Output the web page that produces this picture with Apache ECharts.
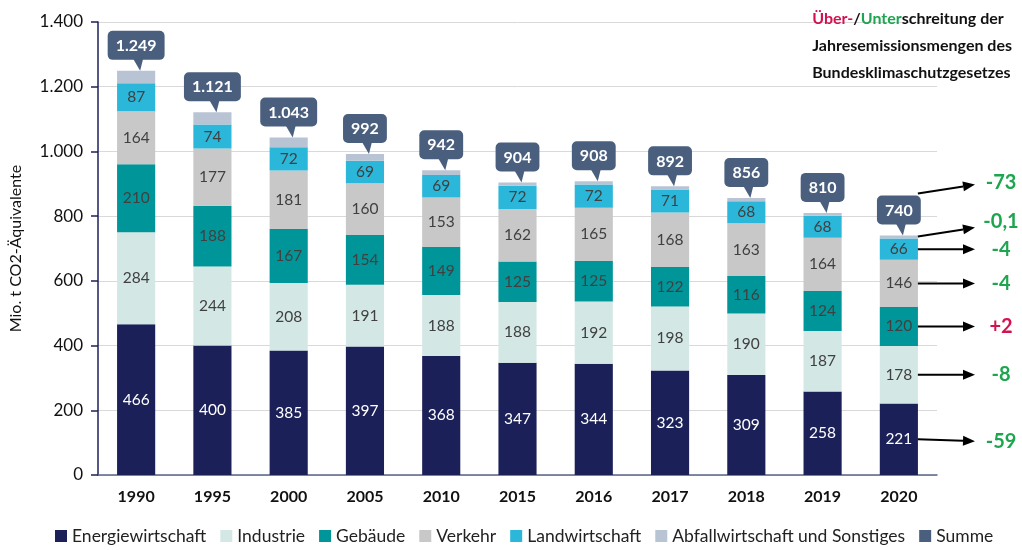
<!DOCTYPE html>
<html><head><meta charset="utf-8">
<script src="https://cdn.jsdelivr.net/npm/echarts@6/dist/echarts.min.js"></script>
<style>html,body{margin:0;padding:0;background:#fff}#c{width:1022px;height:550px}</style>
</head><body><div id="c"></div>
<script>
const years = ['1990','1995','2000','2005','2010','2015','2016','2017','2018','2019','2020'];
const energie = [466,400,385,397,368,347,344,323,309,258,221];
const industrie = [284,244,208,191,188,188,192,198,190,187,178];
const gebaeude = [210,188,167,154,149,125,125,122,116,124,120];
const verkehr = [164,177,181,160,153,162,165,168,163,164,146];
const landwirtschaft = [87,74,72,69,69,72,72,71,68,68,66];
const abfall = [38,38,30,21,15,10,10,10,10,9,9];
const summe = [1249,1121,1043,992,942,904,908,892,856,810,740];
const yTicks = [0,200,400,600,800,1000,1200,1400];
// 2020 deviations: Summe, Abfall, Landwirtschaft, Verkehr, Gebäude, Industrie, Energie
const devLabels = ['-73','-0,1','-4','-4','+2','-8','-59'];
const devColors = ['#1ea54f','#1ea54f','#1ea54f','#1ea54f','#d6114f','#1ea54f','#1ea54f'];

const FONT = 'Lato, "Noto Sans", sans-serif';
const fmt = v => String(v).replace(/\B(?=(\d{3})+(?!\d))/g, '.');

const chart = echarts.init(document.getElementById('c'));
function barSeries(name, data, color, labelColor, showLabel) {
  return {
    name, type: 'bar', stack: 'a', data, barWidth: '50%',
    itemStyle: { color },
    label: { show: showLabel, position: 'inside', color: labelColor, fontSize: 15.5, fontFamily: FONT },
    emphasis: { disabled: true }
  };
}
chart.setOption({
  animation: false,
  textStyle: { fontFamily: FONT },
  grid: { left: 98, right: 85, top: 22, bottom: 75 },
  legend: {
    bottom: 0, left: 50, icon: 'rect', itemWidth: 12, itemHeight: 12, itemGap: 14,
    textStyle: { fontSize: 17.5, color: '#222', fontFamily: FONT },
    data: ['Energiewirtschaft','Industrie','Gebäude','Verkehr','Landwirtschaft','Abfallwirtschaft und Sonstiges','Summe']
  },
  xAxis: {
    type: 'category', data: years,
    axisLine: { lineStyle: { color: '#5b6687', width: 1.5 } }, axisTick: { show: false },
    axisLabel: { fontSize: 16, fontWeight: 'bold', color: '#111', margin: 14 }
  },
  yAxis: {
    type: 'value', min: 0, max: 1400, interval: 200,
    name: 'Mio. t CO2-Äquivalente', nameLocation: 'middle', nameGap: 74, nameRotate: 90,
    nameTextStyle: { fontSize: 16, color: '#111', fontFamily: FONT },
    axisLine: { show: true, lineStyle: { color: '#1b2158', width: 1.5 } },
    axisTick: { show: true, inside: false, length: 7, lineStyle: { color: '#1b2158', width: 1.5 } },
    axisLabel: { fontSize: 17, color: '#111', margin: 15, formatter: v => yTicks.includes(v) ? fmt(v) : '' },
    splitLine: { lineStyle: { color: '#d9d9d9' } }
  },
  series: [
    barSeries('Energiewirtschaft', energie, '#1b2158', '#fff', true),
    barSeries('Industrie', industrie, '#d3e8e5', '#404040', true),
    barSeries('Gebäude', gebaeude, '#009598', '#404040', true),
    barSeries('Verkehr', verkehr, '#c8c8c8', '#404040', true),
    barSeries('Landwirtschaft', landwirtschaft, '#2bb7da', '#404040', true),
    barSeries('Abfallwirtschaft und Sonstiges', abfall, '#b8c4d4', '#404040', false),
    {
      name: 'Summe', type: 'scatter', data: summe, z: 5,
      symbol: 'path://M0,0 L10,0 L7,11 Z', symbolKeepAspect: false, symbolSize: [10, 12], symbolOffset: [2, -6],
      itemStyle: { color: '#4a5f7e', opacity: 1 },
      label: {
        show: true, position: 'top', distance: -1, offset: [-2, 0],
        formatter: p => fmt(p.value), color: '#fff', fontWeight: 'bold', fontSize: 16,
        backgroundColor: '#4a5f7e', borderRadius: 5, padding: [7, 8, 6, 8]
      },
      emphasis: { disabled: true }
    }
  ]
});

// Right-side annotations for 2020
const last = years.length - 1;
const cx = chart.convertToPixel({ seriesIndex: 0 }, [years[last], 0])[0];
const barHalf = 19;
const x0 = cx + barHalf;
const x1 = 975;
const tx = 1001;
const stacks = [energie, industrie, gebaeude, verkehr, landwirtschaft].map(a => a[last]);
let cum = 0; const mids = [];
stacks.forEach(v => { mids.push(cum + v / 2); cum += v; });
const topVal = cum + abfall[last];
const py = v => chart.convertToPixel({ seriesIndex: 0 }, [years[last], v])[1];
const arrows = [
  { y0: py(summe[last]) - 42, y1: py(summe[last]) - 51 },
  { y0: py(topVal) + 1, y1: py(topVal) - 8 },
  { y0: py(mids[4]), y1: py(mids[4]) },
  { y0: py(mids[3]), y1: py(mids[3]) },
  { y0: py(mids[2]), y1: py(mids[2]) },
  { y0: py(mids[1]), y1: py(mids[1]) },
  { y0: py(mids[0]), y1: py(mids[0]) + 2 }
];
const textY = [py(summe[last]) - 53, py(topVal) - 14, null, null, null, null, null];
const g = [];
arrows.forEach((a, i) => {
  const dx = x1 - x0, dy = a.y1 - a.y0, len = Math.hypot(dx, dy);
  const ux = dx / len, uy = dy / len;
  const hl = 12, hw = 5;
  const bx = x1 - ux * hl, by = a.y1 - uy * hl;
  g.push({ type: 'line', shape: { x1: x0, y1: a.y0, x2: bx, y2: by }, style: { stroke: '#000', lineWidth: 2 }, z: 10 });
  g.push({ type: 'polygon', shape: { points: [[x1, a.y1], [bx - uy * hw, by + ux * hw], [bx + uy * hw, by - ux * hw]] }, style: { fill: '#000' }, z: 10 });
  g.push({ type: 'text', x: tx, y: textY[i] != null ? textY[i] : a.y1, z: 10,
    style: { text: devLabels[i], fill: devColors[i], fontSize: 20, fontWeight: 'bold', fontFamily: FONT, align: 'center', verticalAlign: 'middle' } });
});
// Title block
const T = { fontSize: 16, fontWeight: 'bold', fontFamily: FONT, lineHeight: 27 };
g.push({
  type: 'text', right: 10, top: 5, z: 10,
  style: {
    text: '{r|Über-}{k|/}{gr|Unter}{k|schreitung der}\n{k|Jahresemissionsmengen des}\n{k|Bundesklimaschutzgesetzes}',
    align: 'left', lineHeight: 27,
    rich: {
      r: Object.assign({ fill: '#d6114f' }, T),
      gr: Object.assign({ fill: '#1ea54f' }, T),
      k: Object.assign({ fill: '#111' }, T)
    }
  }
});
chart.setOption({ graphic: g });
</script>
</body></html>
